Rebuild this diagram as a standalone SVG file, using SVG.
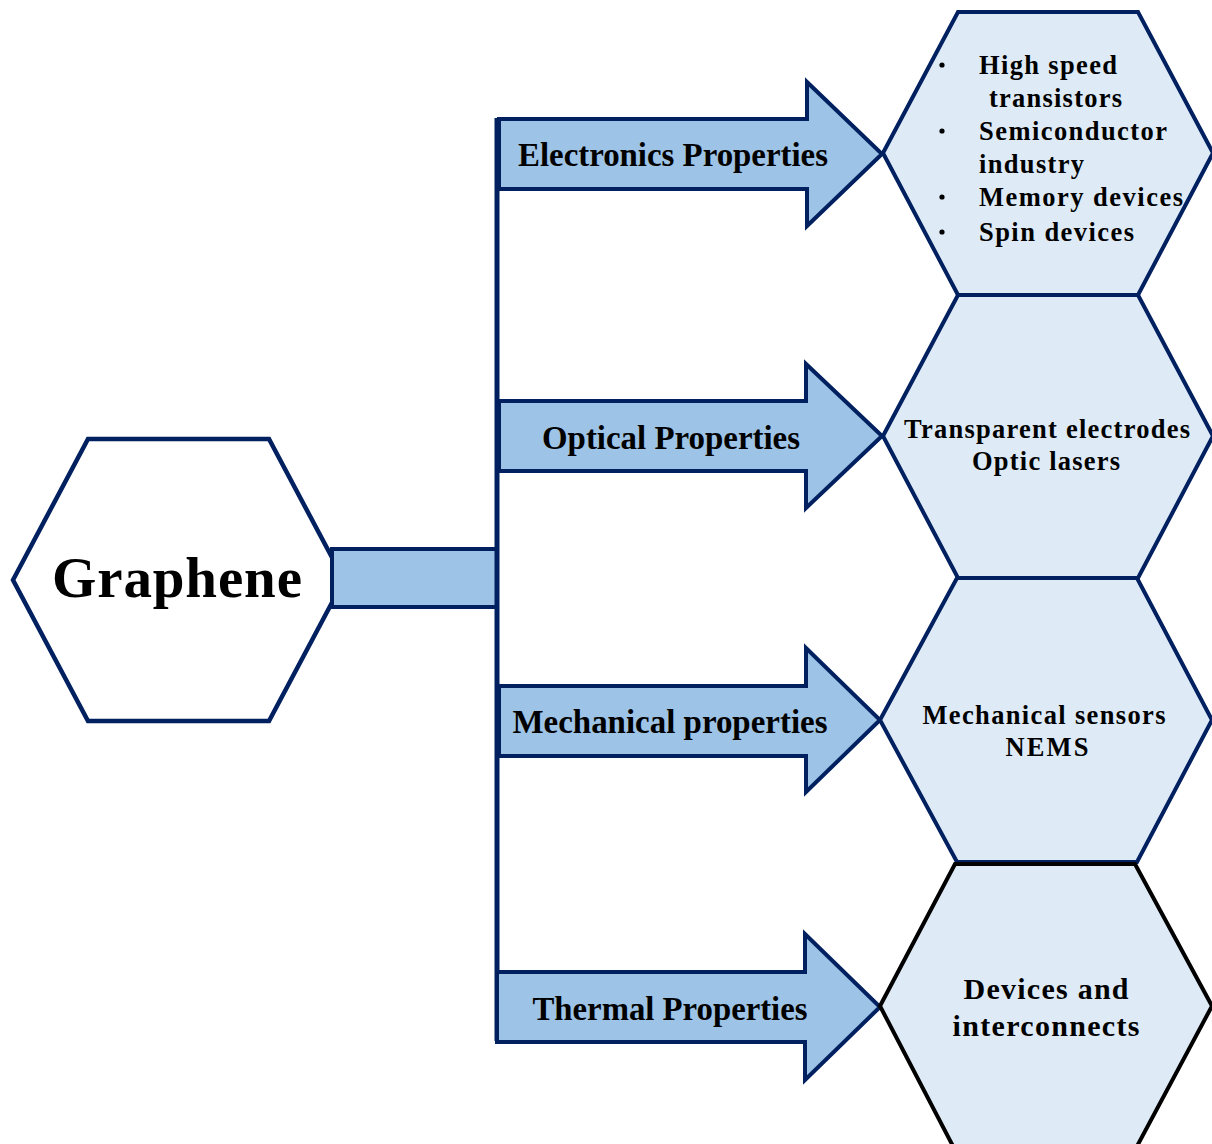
<svg xmlns="http://www.w3.org/2000/svg" width="1212" height="1144" viewBox="0 0 1212 1144">
<style>
.hex{fill:#DEEBF7;stroke:#002060;stroke-width:4;stroke-linejoin:miter}
.hexk{fill:#DEEBF7;stroke:#000;stroke-width:4}
.arrow{fill:#9DC3E6;stroke:#002060;stroke-width:4;stroke-linejoin:miter}
.t{font-family:"Liberation Serif","Times New Roman",serif;font-weight:bold;fill:#000}
.al{font-size:33px}
.hl{font-size:26.5px}
</style>
<rect width="1212" height="1144" fill="#fff"/>
<g id="graphene">
<polygon points="13,580 88,439 269,439 344,580 269,721 88,721" fill="#fff" stroke="#002060" stroke-width="4.5"/>
<text class="t" x="177" y="597" font-size="57" text-anchor="middle" textLength="250" lengthAdjust="spacing">Graphene</text>
</g>
<g id="connectors">
<rect x="332" y="549" width="165" height="58" class="arrow"/>
<line x1="497" y1="118" x2="497" y2="1041" stroke="#002060" stroke-width="5"/>
<polygon class="arrow" points="499,119 807,119 807,82 882,154 807,226 807,189 499,189"/>
<polygon class="arrow" points="499,401 806,401 806,364 882,436 806,508 806,471 499,471"/>
<polygon class="arrow" points="499,686 806,686 806,648 880,720 806,792 806,756 499,756"/>
<polygon class="arrow" points="497,972 805,972 805,934 880,1007 805,1080 805,1042 497,1042"/>
<text class="t al" x="673" y="166" text-anchor="middle" textLength="310" lengthAdjust="spacingAndGlyphs">Electronics Properties</text>
<text class="t al" x="671" y="449" text-anchor="middle" textLength="258" lengthAdjust="spacingAndGlyphs">Optical Properties</text>
<text class="t al" x="670" y="733" text-anchor="middle" textLength="315" lengthAdjust="spacingAndGlyphs">Mechanical properties</text>
<text class="t al" x="670" y="1020" text-anchor="middle" textLength="275" lengthAdjust="spacingAndGlyphs">Thermal Properties</text>
</g>
<g id="electronics-apps">
<polygon class="hex" points="883,153 958,12 1138,12 1213,153 1138,295 958,295"/>
<text class="t hl" x="979" y="74" textLength="138" lengthAdjust="spacing">High speed</text>
<text class="t hl" x="989" y="107" textLength="133" lengthAdjust="spacing">transistors</text>
<text class="t hl" x="979" y="140" textLength="188" lengthAdjust="spacing">Semiconductor</text>
<text class="t hl" x="979" y="173" textLength="105" lengthAdjust="spacing">industry</text>
<text class="t hl" x="979" y="206" textLength="204" lengthAdjust="spacing">Memory devices</text>
<text class="t hl" x="979" y="241" textLength="155" lengthAdjust="spacing">Spin devices</text>
<g fill="#000">
<circle cx="942" cy="65" r="2.6"/>
<circle cx="942" cy="131" r="2.6"/>
<circle cx="942" cy="197" r="2.6"/>
<circle cx="942" cy="232" r="2.6"/>
</g>
</g>
<g id="optical-apps">
<polygon class="hex" points="883,436 958,295 1138,295 1213,436 1138,578 958,578"/>
<text class="t hl" x="1047" y="438" text-anchor="middle" textLength="286" lengthAdjust="spacing">Transparent electrodes</text>
<text class="t hl" x="1046" y="470" text-anchor="middle" textLength="148" lengthAdjust="spacing">Optic lasers</text>
</g>
<g id="mechanical-apps">
<polygon class="hex" points="880,720 957,578 1137,578 1212,720 1137,862 957,862"/>
<text class="t hl" x="1044" y="724" text-anchor="middle" textLength="243" lengthAdjust="spacing">Mechanical sensors</text>
<text class="t hl" x="1047" y="756" text-anchor="middle" textLength="83" lengthAdjust="spacing">NEMS</text>
</g>
<g id="thermal-apps">
<polygon class="hexk" points="880,1006 955,864 1135,864 1212,1006 1135,1150 955,1150"/>
<text class="t" font-size="30" x="1046" y="999" text-anchor="middle" textLength="165" lengthAdjust="spacing">Devices and</text>
<text class="t" font-size="30" x="1046" y="1036" text-anchor="middle" textLength="187" lengthAdjust="spacing">interconnects</text>
</g>
</svg>
